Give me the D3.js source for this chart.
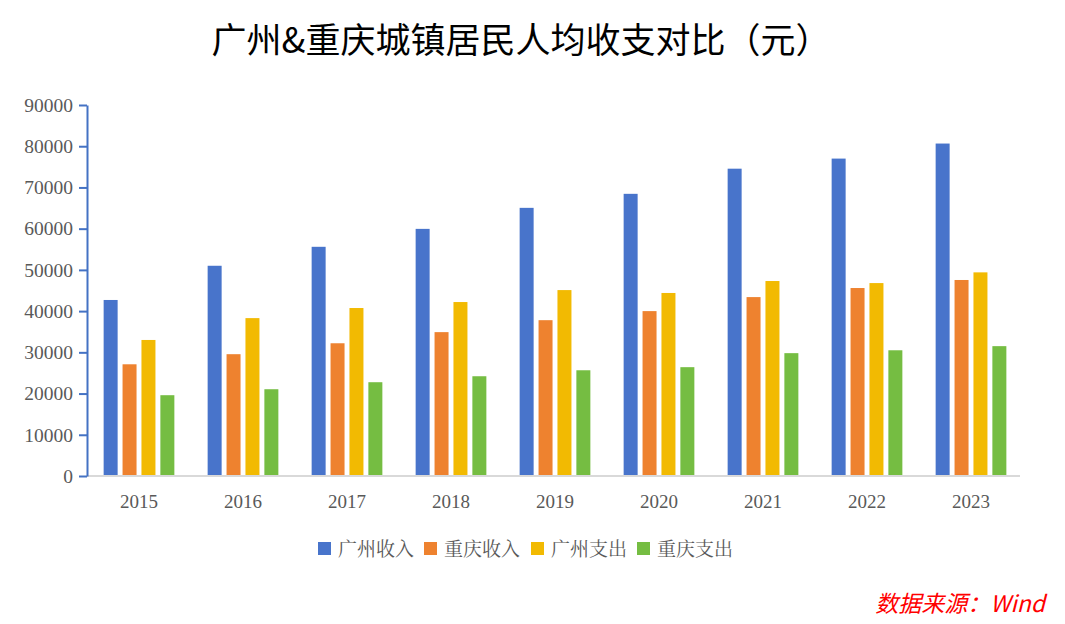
<!DOCTYPE html>
<html>
<head>
<meta charset="utf-8">
<title>广州&重庆城镇居民人均收支对比</title>
<script src="https://cdn.jsdelivr.net/npm/d3@7/dist/d3.min.js"></script>
<style>
  body { margin: 0; background: #fff; }
</style>
</head>
<body>
<div id="chart"></div>
<script>
  // data
  var years = ["2015", "2016", "2017", "2018", "2019", "2020", "2021", "2022", "2023"];
  var seriesNames = ["广州收入", "重庆收入", "广州支出", "重庆支出"];
  var gzIncome = [42700, 51000, 55600, 59950, 65050, 68450, 74550, 77000, 80650];
  var cqIncome = [27100, 29550, 32200, 34900, 37800, 40000, 43400, 45600, 47550];
  var gzSpend  = [33000, 38300, 40750, 42200, 45100, 44400, 47300, 46800, 49400];
  var cqSpend  = [19600, 21050, 22750, 24200, 25650, 26400, 29800, 30500, 31500];
  var yTicks = [0, 10000, 20000, 30000, 40000, 50000, 60000, 70000, 80000, 90000];
  var colors = ["#4874CB", "#EE822F", "#F2BA02", "#75BD42"];

  var width = 1065, height = 624;
  var plotLeft = 87, plotRight = 1023, plotTop = 105, plotBottom = 476;

  var svg = d3.select("#chart").append("svg")
    .attr("width", width)
    .attr("height", height);

  var x = d3.scaleBand().domain(years).range([plotLeft, plotRight]).paddingInner(0.32).paddingOuter(0.16);
  var xs = d3.scaleBand().domain(seriesNames).range([0, x.bandwidth()]).paddingInner(0.26);
  var y = d3.scaleLinear().domain([0, 90000]).range([plotBottom, plotTop]);

  var allSeries = [gzIncome, cqIncome, gzSpend, cqSpend];

  // title
  svg.append("text")
    .attr("x", 521).attr("y", 53)
    .attr("text-anchor", "middle")
    .style("font-family", "'Noto Sans CJK SC', sans-serif")
    .style("font-size", "35px")
    .style("font-weight", "400")
    .style("fill", "#000")
    .text("广州&重庆城镇居民人均收支对比（元）");

  // bars
  seriesNames.forEach(function(name, s) {
    svg.append("g").selectAll("rect").data(allSeries[s]).enter().append("rect")
      .attr("x", function(d, i) { return x(years[i]) + xs(name); })
      .attr("y", function(d) { return y(d); })
      .attr("width", xs.bandwidth())
      .attr("height", function(d) { return y(0) - y(d); })
      .style("fill", colors[s]);
  });

  // x axis
  var xAxis = svg.append("g")
    .attr("transform", "translate(0," + plotBottom + ")")
    .call(d3.axisBottom(x).tickSize(0).tickPadding(19));
  xAxis.select(".domain").attr("stroke", "#D9D9D9").attr("stroke-width", 2)
    .attr("d", "M" + plotLeft + ",0H" + (plotRight - 3));
  xAxis.selectAll("text")
    .style("font-family", "'Liberation Serif', serif")
    .style("font-size", "19px")
    .style("fill", "#595959");

  // y axis
  var yAxis = svg.append("g")
    .attr("transform", "translate(" + plotLeft + ",0)")
    .call(d3.axisLeft(y).tickValues(yTicks).tickFormat(d3.format("d"))
      .tickSize(8).tickPadding(6).tickSizeOuter(0));
  yAxis.select(".domain").attr("stroke", "#4472C4").attr("stroke-width", 2);
  yAxis.selectAll(".tick line").attr("stroke", "#4472C4").attr("stroke-width", 2);
  yAxis.selectAll("text")
    .style("font-family", "'Liberation Serif', serif")
    .style("font-size", "19.5px")
    .style("fill", "#595959");

  // legend
  var legendX = [318, 424, 531, 637];
  var legend = svg.append("g").selectAll("g").data(seriesNames).enter().append("g")
    .attr("transform", function(d, i) { return "translate(" + legendX[i] + ",549)"; });
  legend.append("rect")
    .attr("x", 0).attr("y", -7)
    .attr("width", 13).attr("height", 13)
    .style("fill", function(d, i) { return colors[i]; });
  legend.append("text")
    .attr("x", 20).attr("y", 7)
    .style("font-family", "'Noto Serif CJK SC', 'Noto Sans CJK SC', serif")
    .style("font-size", "19px")
    .style("fill", "#595959")
    .text(function(d) { return d; });

  // source note
  svg.append("text")
    .attr("x", 1045).attr("y", 612)
    .attr("text-anchor", "end")
    .style("font-family", "'Noto Sans CJK SC', sans-serif")
    .style("font-style", "italic")
    .style("font-size", "23px")
    .style("fill", "#FF0000")
    .text("数据来源：Wind");
</script>
</body>
</html>
